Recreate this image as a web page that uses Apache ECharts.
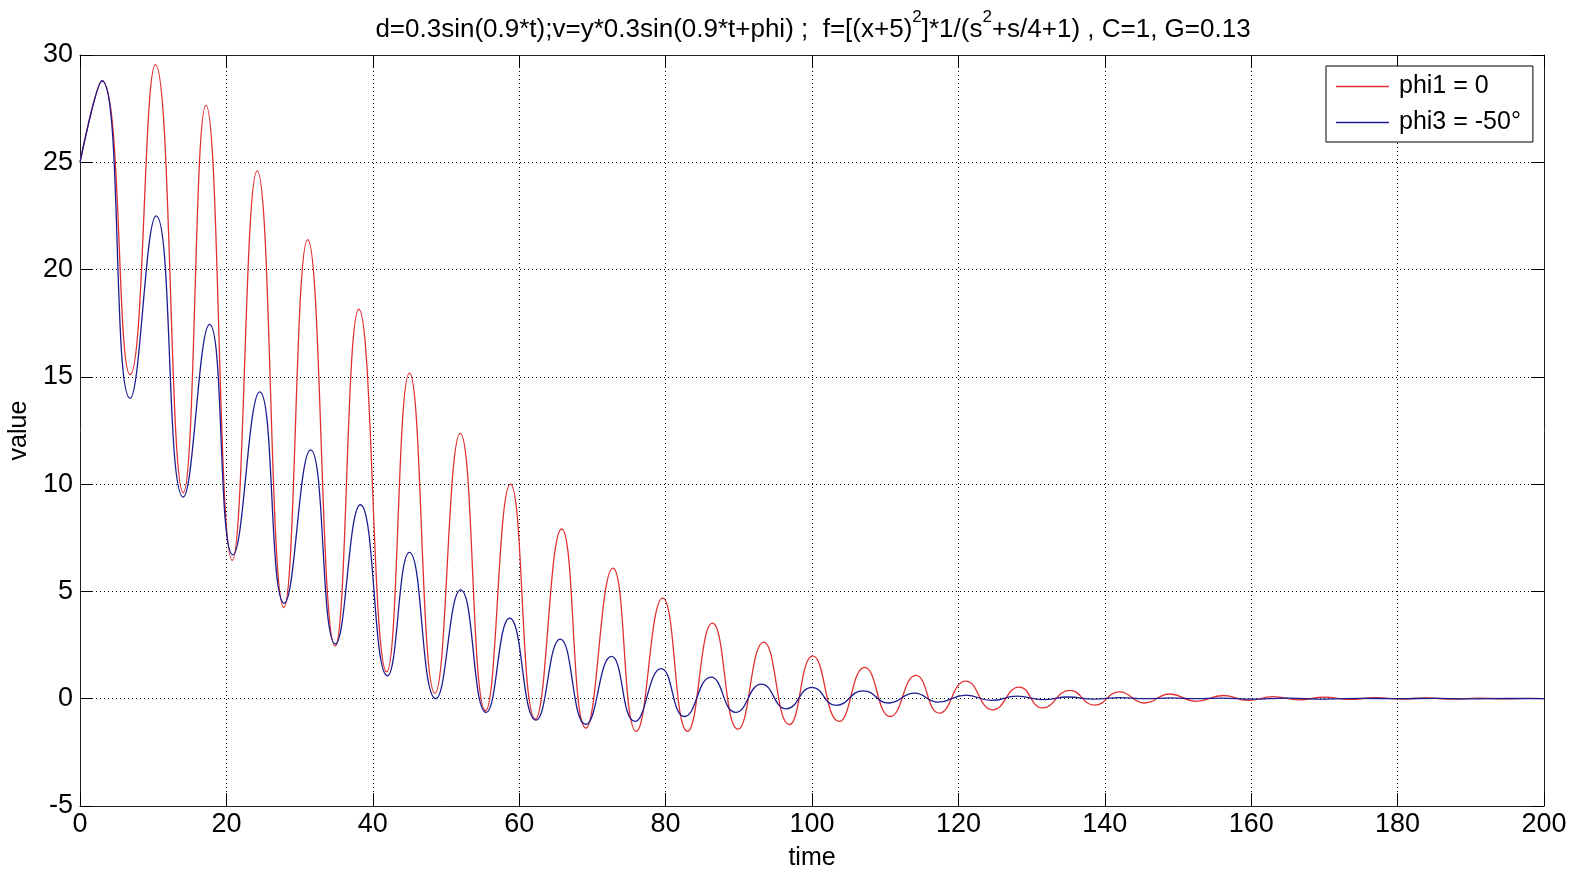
<!DOCTYPE html>
<html>
<head>
<meta charset="utf-8">
<script src="https://cdn.jsdelivr.net/npm/echarts@6/dist/echarts.min.js"></script>
<style>
html,body{margin:0;padding:0;background:#fff;}
#chart{width:1578px;height:869px;}
</style>
</head>
<body>
<div id="chart"></div>
<script>
// phi1 = 0 (red): time / value at start, peaks and troughs
const redT = [0, 3.0, 6.85, 10.3, 14.1, 17.2, 20.8, 24.2, 27.85, 31.1, 34.85, 38.1, 41.9, 45.0, 48.5, 51.95, 55.4, 58.8, 62.2, 65.8, 69.1, 72.8, 76.0, 79.6, 83.0, 86.4, 89.9, 93.4, 96.9, 100.1, 103.7, 107.2, 110.7, 114.2, 117.4, 121.0, 124.7, 128.3, 131.5, 135.2, 138.6, 142.0, 145.4, 148.9, 152.5, 156.2, 159.6, 163.0, 166.5, 170.0, 173.5, 177.0, 180.5, 184.0, 187.5, 191.0, 194.5, 198.0, 200];
const redV = [25.0, 28.8, 15.1, 29.55, 9.6, 27.65, 6.45, 24.6, 4.25, 21.4, 2.45, 18.15, 1.25, 15.17, 0.25, 12.37, -0.56, 10.0, -0.95, 7.91, -1.37, 6.09, -1.52, 4.69, -1.52, 3.52, -1.42, 2.64, -1.21, 2.0, -1.06, 1.46, -0.83, 1.09, -0.67, 0.82, -0.52, 0.54, -0.43, 0.39, -0.30, 0.32, -0.20, 0.22, -0.12, 0.15, -0.08, 0.10, -0.05, 0.07, -0.03, 0.05, -0.02, 0.04, -0.02, 0.03, -0.01, 0.02, 0.0];
// phi3 = -50° (blue)
const blueT = [0, 3.0, 6.85, 10.4, 14.1, 17.7, 20.9, 24.55, 27.9, 31.5, 34.9, 38.3, 42.0, 45.0, 48.6, 52.0, 55.5, 58.7, 62.3, 65.6, 69.1, 72.6, 75.8, 79.4, 82.6, 86.2, 89.6, 93.1, 96.5, 100.0, 103.3, 107.0, 110.5, 114.0, 117.2, 121.0, 124.5, 128.0, 131.5, 135.0, 138.5, 142.0, 145.5, 149.0, 152.5, 156.0, 160.0, 165.0, 170.0, 175.0, 180.0, 185.0, 190.0, 195.0, 200];
const blueV = [25.0, 28.8, 14.0, 22.5, 9.4, 17.45, 6.7, 14.3, 4.45, 11.6, 2.55, 9.04, 1.07, 6.82, 0.0, 5.07, -0.64, 3.76, -1.0, 2.78, -1.2, 1.97, -1.06, 1.40, -0.83, 1.01, -0.64, 0.68, -0.47, 0.53, -0.31, 0.37, -0.20, 0.26, -0.16, 0.17, -0.08, 0.12, -0.04, 0.08, -0.02, 0.05, 0.0, 0.04, 0.0, 0.03, -0.02, 0.03, -0.02, 0.02, 0.0, 0.02, -0.01, 0.01, 0.0];
const seriesNames = ['phi1 = 0', 'phi3 = -50°'];
const xTicks = {min: 0, max: 200, interval: 20};
const yTicks = {min: -5, max: 30, interval: 5};
const titleParts = ['d=0.3sin(0.9*t);v=y*0.3sin(0.9*t+phi) ;  f=[(x+5)', '2', ']*1/(s', '2', '+s/4+1) , C=1, G=0.13'];

const FONT = '"Liberation Sans", Arial, sans-serif';
const zip = (a, b) => a.map((t, i) => [t, b[i]]);
const gridDot = {show: true, lineStyle: {color: '#000', width: 1, type: [1, 3]}};
const tick = {show: true, inside: true, length: 13, lineStyle: {color: '#000'}};
const axLine = {show: true, onZero: false, lineStyle: {color: '#222', width: 1}};

const titleText = '{a|' + titleParts[0] + '}{s|' + titleParts[1] + '}{a|' + titleParts[2] + '}{s|' + titleParts[3] + '}{a|' + titleParts[4] + '}';

const chart = echarts.init(document.getElementById('chart'), null, {renderer: 'canvas'});
chart.setOption({
  backgroundColor: '#fff',
  animation: false,
  title: {
    text: titleText,
    left: 808, top: 4, textAlign: 'center',
    textStyle: {
      fontWeight: 'normal',
      rich: {
        a: {fontFamily: FONT, fontSize: 26, fontWeight: 'normal', color: '#000', lineHeight: 34, verticalAlign: 'bottom'},
        s: {fontFamily: FONT, fontSize: 17, fontWeight: 'normal', color: '#000', lineHeight: 34, verticalAlign: 'top'}
      }
    }
  },
  legend: {
    data: seriesNames,
    orient: 'vertical',
    left: 1326, top: 66,
    padding: [7, 12, 6, 10],
    itemGap: 9,
    itemWidth: 53,
    itemHeight: 1.5,
    icon: 'rect',
    borderColor: '#000', borderWidth: 1, backgroundColor: '#fff',
    textStyle: {fontFamily: FONT, fontSize: 25, color: '#000', lineHeight: 27, padding: [0, 0, 0, 5]}
  },
  grid: {left: 80, right: 34, top: 55, bottom: 63, containLabel: false, outerBoundsMode: 'none'},
  xAxis: [{
    type: 'value', min: xTicks.min, max: xTicks.max, interval: xTicks.interval,
    name: 'time', nameLocation: 'middle', nameGap: 40,
    nameTextStyle: {fontFamily: FONT, fontSize: 25, color: '#000'},
    axisLine: axLine, axisTick: tick, splitLine: gridDot,
    axisLabel: {fontFamily: FONT, fontSize: 27, color: '#000', margin: 5}
  }, {
    type: 'value', position: 'top', min: xTicks.min, max: xTicks.max, interval: xTicks.interval,
    axisLine: axLine, axisTick: tick, splitLine: {show: false}, axisLabel: {show: false}
  }],
  yAxis: [{
    type: 'value', min: yTicks.min, max: yTicks.max, interval: yTicks.interval,
    name: 'value', nameLocation: 'middle', nameGap: 44, nameRotate: 90,
    nameTextStyle: {fontFamily: FONT, fontSize: 25, color: '#000'},
    axisLine: axLine, axisTick: tick, splitLine: gridDot,
    axisLabel: {fontFamily: FONT, fontSize: 27, color: '#000', margin: 7}
  }, {
    type: 'value', position: 'right', min: yTicks.min, max: yTicks.max, interval: yTicks.interval,
    axisLine: axLine, axisTick: tick, splitLine: {show: false}, axisLabel: {show: false}
  }],
  series: [{
    name: seriesNames[0], type: 'line', data: zip(redT, redV),
    symbol: 'none', smooth: 0.5, color: '#e03030',
    lineStyle: {color: '#e03030', width: 1.3}
  }, {
    name: seriesNames[1], type: 'line', data: zip(blueT, blueV),
    symbol: 'none', smooth: 0.5, color: '#1c1c90',
    lineStyle: {color: '#1c1c90', width: 1.3}
  }]
});
</script>
</body>
</html>
